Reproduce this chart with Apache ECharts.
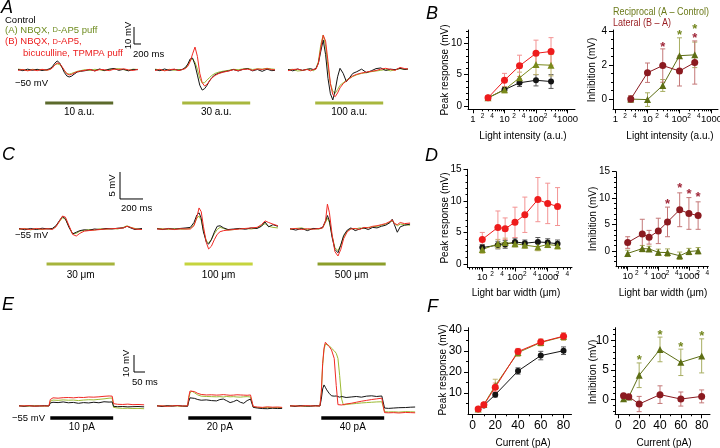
<!DOCTYPE html>
<html><head><meta charset="utf-8">
<script src="https://cdn.jsdelivr.net/npm/echarts@6.0.0/dist/echarts.min.js"></script>
<style>html,body{margin:0;padding:0;background:#fff}#c{width:720px;height:448px}</style>
</head><body><div id="c"></div>
<script>
// ======================= DATA =======================
// Panel A: light-intensity traces (time ms, Vm relative to -50 mV)
const tA1 = [0,60,120,180,240,300,360,400,430,460,490,520,550,580,610,640,670,700,740,780,840,900,960,1020,1080,1140,1200,1260,1320,1380,1440,1500];
const kA1 = [0.3,-0.4,0.5,-0.2,0.4,-0.3,0.2,0.8,2.0,4.0,5.3,4.2,1.5,-1.5,-3.5,-4.1,-3.6,-2.5,-1.2,-0.8,-0.4,0.3,-0.5,0.6,-0.3,0.5,0.9,-0.2,0.4,-0.5,0.3,0.2];
const gA1 = [0.5,0.2,-0.3,0.4,0.1,0.3,-0.2,0.5,1.5,3.0,3.6,3.2,1.5,-0.5,-2.0,-2.4,-2.0,-1.5,-0.8,-0.4,0.2,-0.3,0.4,0.1,-0.4,0.3,0.6,0.8,0.2,-0.2,0.5,0.3];
const rA1 = [-0.2,0.3,-0.5,0.2,-0.4,0.4,-0.1,0.3,1.2,3.0,4.1,3.8,2.0,-0.2,-2.2,-2.9,-2.6,-1.8,-1.0,-0.6,-0.2,0.4,-0.6,0.3,0.2,-0.4,0.5,0.3,0.7,0.1,-0.3,0.4];
const tA2 = [0,60,120,180,240,300,340,380,410,440,470,500,530,560,590,620,650,680,710,750,800,860,920,980,1040,1100,1160,1220,1280,1340,1400,1460,1500];
const kA2 = [0.2,-0.4,0.6,-0.3,0.4,-0.2,0.3,1.5,3.5,6.5,7.0,3.0,-3.0,-9.0,-11.8,-11.0,-9.0,-6.5,-4.5,-2.8,-1.8,-1.0,-0.5,0.3,-0.6,0.4,0.8,-0.5,0.3,-0.8,0.5,-0.4,-0.2];
const gA2 = [0.5,0.1,-0.3,0.4,-0.2,0.3,0.2,1.2,3.0,5.5,6.5,4.5,0.5,-5.0,-7.6,-7.4,-6.0,-4.5,-3.2,-2.0,-1.2,-0.6,-0.2,0.4,0.2,0.6,0.9,0.3,0.7,0.5,1.0,0.6,0.4];
const rA2 = [-0.3,0.4,-0.5,0.2,0.5,-0.4,0.3,0.8,2.2,5.0,9.5,13.5,8.0,-2.0,-7.5,-9.4,-8.5,-6.5,-4.8,-3.2,-2.0,-1.2,-0.6,0.2,-0.4,0.3,0.5,-0.2,0.6,0.3,0.8,0.2,0.1];
const tA3 = [0,60,120,180,240,280,320,350,380,410,440,470,500,530,560,590,620,650,690,730,770,810,860,920,980,1040,1100,1160,1220,1280,1340,1400,1460,1500];
const kA3 = [0.3,-0.5,0.6,-0.2,0.4,0.8,0.2,1.0,4.0,11.0,17.6,9.0,-5.0,-14.0,-17.6,-12.0,-4.0,1.0,-2.0,-6.9,-4.5,-2.0,-1.0,0.5,-1.5,-0.5,0.8,1.2,-0.3,0.5,0.2,1.0,0.3,0.6];
const gA3 = [0.2,0.4,-0.6,-0.3,0.5,0.2,-0.4,0.8,5.0,15.0,20.6,14.0,2.0,-8.0,-12.5,-13.7,-11.5,-9.0,-7.5,-6.0,-4.8,-3.8,-2.8,-2.0,-1.6,-1.0,-0.6,-0.2,0.3,-0.5,0.1,0.8,0.4,0.5];
const rA3 = [-0.4,0.3,0.5,-0.2,0.3,-0.5,0.4,0.5,4.0,13.0,20.5,17.0,5.0,-8.0,-14.5,-15.7,-13.5,-10.5,-8.0,-6.5,-5.0,-3.5,-2.5,-1.8,-1.2,-0.8,-0.3,0.5,1.0,0.4,-0.2,1.5,0.8,0.6];

// Panel C: light-bar-width traces (ms, mV relative to -55 mV)
const tC1 = [0,40,80,120,160,200,230,255,280,300,320,345,370,395,420,450,480,520,560,600,640,680,720,745,770,800,848];
const kC1 = [0.1,-0.15,0.1,-0.1,0.15,0.0,0.1,0.6,1.6,2.3,1.9,0.3,-0.9,-0.6,-0.3,-0.15,-0.25,0.0,-0.1,0.1,0.0,0.15,0.2,0.5,0.2,-0.1,0.1];
const gC1 = [-0.1,0.1,-0.15,0.05,-0.1,0.1,0.0,0.5,1.4,2.1,1.8,0.4,-0.9,-0.8,-0.4,-0.25,-0.1,-0.2,0.05,-0.05,0.1,0.0,0.3,0.6,0.3,0.1,-0.1];
const rC1 = [0.0,0.05,-0.1,0.1,-0.05,0.05,-0.1,0.4,1.5,2.4,2.2,0.6,-1.0,-1.3,-0.8,-0.4,-0.3,-0.2,-0.1,0.0,0.05,0.1,0.2,0.5,0.3,0.0,-0.1];
const tC2 = [0,40,80,120,160,200,230,255,275,290,305,320,340,356,375,395,415,435,460,490,530,570,610,650,690,720,745,770,800,834];
const kC2 = [0.05,-0.1,0.1,-0.05,0.1,0.2,0.3,1.2,2.6,3.0,2.0,-0.5,-2.4,-2.8,-2.0,-0.6,0.5,0.6,0.2,-0.1,0.0,0.1,-0.05,0.2,0.1,0.5,1.3,0.4,0.8,0.5];
const gC2 = [0.1,0.05,-0.1,0.1,-0.05,0.0,0.1,0.8,2.0,2.4,1.6,-0.3,-2.2,-2.6,-1.9,-0.9,-0.1,0.3,0.1,-0.2,-0.1,0.05,0.1,0.0,0.2,0.6,1.0,0.5,0.3,0.2];
const rC2 = [0.0,-0.05,0.05,-0.1,0.05,0.0,0.0,0.6,2.2,3.9,3.2,0.5,-2.5,-3.7,-3.2,-2.0,-1.0,-0.5,-0.3,-0.2,-0.1,0.0,0.1,0.2,0.3,0.8,1.5,1.2,0.9,0.6];
const tC3 = [0,40,80,120,160,200,225,245,258,272,290,310,331,350,370,395,420,450,480,510,540,570,600,630,660,690,705,720,740,760,790,828];
const kC3 = [0.05,-0.2,0.1,-0.3,0.1,0.05,0.3,1.5,2.5,1.5,-1.5,-3.8,-4.4,-3.0,-1.2,-0.2,0.2,-0.3,0.0,0.2,-0.1,0.3,0.2,0.5,0.7,1.2,1.8,0.8,-0.6,0.4,0.7,0.9];
const gC3 = [-0.05,0.1,0.2,-0.1,0.05,0.0,0.2,1.2,2.0,1.2,-1.2,-3.5,-4.0,-3.0,-1.4,-0.4,0.1,0.0,0.2,0.1,0.3,0.4,0.5,0.7,0.9,1.3,1.5,1.1,0.6,0.9,0.8,0.7];
const rC3 = [0.0,0.1,-0.1,0.05,-0.05,0.1,0.2,1.5,4.6,3.0,-1.0,-4.2,-5.0,-3.8,-1.8,-0.5,0.0,0.1,-0.1,0.3,0.2,0.5,0.6,0.8,1.0,1.4,1.7,1.0,0.8,1.2,1.0,1.1];

// Panel E: current-injection traces (ms, mV relative to -55 mV)
const tE1 = [0,15,30,45,60,75,88,92,100,115,130,145,160,175,190,205,220,235,250,265,274,278,290,305,320,335,350,368];
const kE1 = [0.1,-0.2,0.2,-0.1,0.0,0.2,0.0,1.8,2.2,2.0,2.4,1.9,2.1,1.6,2.0,1.8,2.2,1.9,2.5,2.3,2.4,-0.2,-0.4,-0.3,-0.5,-0.4,-0.3,-0.5];
const gE1 = [0.2,0.0,-0.1,0.2,0.1,-0.1,0.1,2.8,3.5,3.3,3.6,3.4,3.5,3.2,3.5,3.7,3.6,3.9,4.2,4.6,4.7,-0.8,-1.2,-1.4,-1.3,-1.5,-1.4,-1.6];
const rE1 = [0.0,0.1,0.2,-0.1,0.1,0.0,0.1,3.8,4.8,4.6,4.9,5.0,4.8,5.1,5.0,5.3,5.2,5.4,5.7,5.9,5.8,1.4,1.0,0.9,1.1,0.8,0.9,0.7];
const tE2 = [0,15,30,45,60,75,90,93,97,102,110,120,130,145,160,175,185,195,205,215,225,235,245,255,265,275,279,283,295,310,325,340,355,368];
const kE2 = [0.1,-0.3,0.2,-0.1,0.3,0.0,-0.2,2.5,4.8,5.5,4.5,3.8,3.4,3.6,3.2,3.0,3.8,4.1,3.1,2.0,2.6,3.5,2.2,1.6,3.2,4.1,3.8,-0.8,-1.2,-1.5,-1.6,-1.3,-1.5,-1.4];
const gE2 = [0.2,0.0,-0.1,0.2,0.0,-0.2,0.1,4.0,7.5,8.8,7.8,6.5,5.8,5.6,5.5,5.4,5.5,5.3,5.6,5.4,5.5,5.3,5.2,5.4,5.5,5.3,5.2,-0.6,-0.9,-1.0,-0.8,-1.1,-0.9,-1.0];
const rE2 = [0.0,0.1,-0.2,0.1,0.2,0.0,0.1,5.0,8.8,9.8,8.5,7.4,6.8,6.5,6.6,6.4,6.5,6.7,6.5,6.3,6.4,6.6,6.5,6.4,6.3,6.5,6.4,-0.3,-0.6,-0.8,-0.5,-0.7,-0.6,-0.8];
const tE3 = [0,15,30,45,60,75,88,92,96,100,104,108,115,122,130,136,141,146,152,157,165,180,195,210,225,240,255,270,274,278,290,305,320,340,355,368];
const kE3 = [0.1,-0.2,0.2,0.0,-0.1,0.2,0.0,4.0,10.0,12.4,11.0,9.5,7.5,6.0,5.8,5.9,4.8,5.2,5.6,5.4,5.0,5.3,5.6,5.2,5.8,6.0,5.6,5.9,5.8,-1.2,-1.4,-1.2,-1.0,-0.9,-0.7,-0.6];
const gE3 = [0.2,-0.1,0.1,-0.2,0.0,0.1,0.0,7.0,24.0,33.0,36.5,36.9,35.5,34.0,32.5,31.0,28.0,18.0,4.0,0.6,0.9,1.2,1.5,1.8,2.0,2.2,2.4,2.5,2.6,-3.3,-3.5,-3.4,-3.6,-3.3,-3.4,-3.5];
const rE3 = [0.0,0.1,-0.1,0.2,0.1,0.0,0.1,8.0,25.0,34.0,37.5,37.8,35.0,33.0,28.0,12.0,0.8,0.3,0.6,0.8,1.2,1.6,2.2,2.8,3.3,3.8,4.2,4.6,4.7,-3.9,-4.0,-3.9,-4.1,-3.8,-3.9,-4.0];

// stimulus timing (ms) and labels
const stimA = [340, 1190];
const stimC = [190, 660];
const stimE = [92, 277];
const stimLabelsA = ['10 a.u.', '30 a.u.', '100 a.u.'];
const stimLabelsC = ['30 \u03bcm', '100 \u03bcm', '500 \u03bcm'];
const stimLabelsE = ['10 pA', '20 pA', '40 pA'];
const scaleA = [10, 200];  // mV, ms
const scaleC = [5, 200];
const scaleE = [10, 50];

// Panel B
const intensity = [3, 10, 30, 100, 300];
const bCtrl = [1.3, 2.6, 3.7, 4.1, 3.9],  bCtrlErr = [0.2, 0.4, 0.6, 0.9, 1.1];
const bA    = [1.3, 2.6, 4.5, 6.6, 6.5],  bAErr    = [0.2, 0.5, 0.9, 1.6, 1.7];
const bB    = [1.3, 4.1, 6.4, 8.4, 8.7],  bBErr    = [0.2, 1.1, 1.7, 2.1, 2.2];
const bRecip = [0.0, -0.03, 0.8, 2.55, 2.6], bRecipErr = [0.2, 0.4, 0.35, 1.05, 0.75];
const bLat   = [0.0, 1.55, 1.97, 1.65, 2.15], bLatErr  = [0.2, 0.57, 0.98, 0.88, 1.27];
const bStarRecip = [[100, 3.96], [300, 4.3]];
const bStarLat = [[30, 3.27], [300, 3.8]];

// Panel D
const barWidth = [10, 30, 50, 100, 200, 500, 1000, 2000];
const dCtrl = [2.6, 3.0, 3.1, 3.5, 3.3, 3.5, 3.4, 3.2], dCtrlErr = [0.5, 0.6, 0.6, 0.6, 0.5, 0.7, 0.6, 0.6];
const dA    = [2.3, 3.2, 3.4, 3.2, 3.0, 2.7, 3.1, 2.9], dAErr    = [0.6, 0.7, 0.7, 0.5, 0.5, 0.6, 0.5, 0.5];
const dB    = [3.9, 5.8, 5.6, 6.6, 7.8, 10.2, 9.6, 9.1], dBErr   = [1.1, 2.6, 1.7, 2.4, 2.8, 3.5, 3.2, 3.0];
const dRecip = [-0.45, 0.45, 0.4, -0.25, -0.3, -0.9, -0.1, 0.05], dRecipErr = [0.6, 0.6, 0.5, 0.6, 0.7, 0.7, 0.6, 0.6];
const dLat   = [1.6, 3.2, 2.6, 3.8, 5.5, 7.8, 7.1, 6.7], dLatErr = [1.1, 2.8, 1.3, 2.4, 2.8, 3.2, 3.0, 2.6];
const dStarLat = [[200, 9.6], [500, 12.6], [1000, 11.4], [2000, 10.9]];

// Panel F
const current = [5, 10, 20, 40, 60, 80];
const fCtrl = [2.4, 4.2, 9.3, 20.5, 27.8, 30.1], fCtrlErr = [0.8, 0.9, 1.1, 1.5, 2.0, 1.8];
const fA    = [2.5, 4.6, 13.6, 29.2, 34.0, 36.8], fAErr   = [0.9, 1.0, 3.0, 1.8, 1.6, 1.8];
const fB    = [2.5, 4.5, 12.8, 29.7, 34.2, 37.0], fBErr   = [0.8, 1.0, 2.0, 1.5, 1.4, 1.5];
const fRecip = [0.1, 0.4, 4.1, 8.5, 6.3, 7.4], fRecipErr = [0.4, 0.3, 2.1, 2.1, 2.25, 2.9];
const fLat   = [0.6, 0.45, -0.8, 0.8, 0.05, 0.5], fLatErr = [0.4, 0.3, 1.3, 1.5, 1.2, 1.1];
const fStarRecip = [[20, 7.3], [40, 11.6], [60, 9.6], [80, 11.4]];

// ======================= BUILD =======================
const FONT = '"Liberation Sans", Arial, Helvetica, sans-serif';
const C = {k:'#141414', g:'#9cba34', r:'#f02a24', olive:'#7a8a1c', red:'#ee1c1c', recip:'#5d6e14', lat:'#8b1a20',
  errK:'#5a5a5a', errA:'#c2b46e', errB:'#f39393', errRecip:'#a8ae62', errLat:'#c47878', starLat:'#a0283a', starRecip:'#73861e'};
const option = {animation:false, backgroundColor:'#ffffff', grid:[], xAxis:[], yAxis:[], series:[], graphic:[]};
const zip = (t, v) => t.map((x, i) => [x, v[i]]);

function addGrid(l, t, w, h) {
  option.grid.push({left:l, top:t, width:w, height:h, containLabel:false, outerBoundsMode:'none', show:false});
  return option.grid.length - 1;
}
function hiddenAxes(g, xr, yr) {
  option.xAxis.push({gridIndex:g, type:'value', min:xr[0], max:xr[1], show:false});
  option.yAxis.push({gridIndex:g, type:'value', min:yr[0], max:yr[1], show:false});
  return [option.xAxis.length - 1, option.yAxis.length - 1];
}
function line(ax, data, color, width, z) {
  option.series.push({type:'line', xAxisIndex:ax[0], yAxisIndex:ax[1], data, symbol:'none', showSymbol:false,
    lineStyle:{color, width}, itemStyle:{color}, clip:false, z:z || 2, silent:true});
}
function txt(x, y, s, o) {
  const el = Object.assign({type:'text', x, y, z:100, silent:true}, o && o.el || {});
  el.style = Object.assign({text:s, fill:'#000', fontSize:10, fontFamily:FONT, align:'left', verticalAlign:'middle'}, o && o.style || {});
  option.graphic.push(el);
}

// ---- trace rows ----
const rows = [
  {starts:[18,155,288], top:20, height:95, width:122, xr:[0,1525], yr:[-26.47,29.41], barY:-19.4, barW:3,
   barColors:['#5c6a2c','#a8b73e','#a8b73e'], stim:stimA, labels:stimLabelsA, labelY:112.5,
   traces:[[tA1,kA1,gA1,rA1],[tA2,kA2,gA2,rA2],[tA3,kA3,gA3,rA3]], scale:scaleA, scaleAt:[1450,15.3]},
  {starts:[19,157,290], top:160, height:115, width:123, xr:[0,848.3], yr:[-8.52,12.78], barY:-6.5, barW:3,
   barColors:['#a6b43c','#c5d43e','#8c9e2a'], stim:stimC, labels:stimLabelsC, labelY:275,
   traces:[[tC1,kC1,gC1,rC1],[tC2,kC2,gC2,rC2],[tC3,kC3,gC3,rC3]], scale:scaleC, scaleAt:[696.6,5.56]},
  {starts:[19,157,290], top:330, height:98, width:125, xr:[0,367.6], yr:[-12.94,44.71], barY:-7.06, barW:3.5,
   barColors:['#000','#000','#000'], stim:stimE, labels:stimLabelsE, labelY:427,
   traces:[[tE1,kE1,gE1,rE1],[tE2,kE2,gE2,rE2],[tE3,kE3,gE3,rE3]], scale:scaleE, scaleAt:[338.2,20]}
];
rows.forEach(row => {
  row.starts.forEach((left, i) => {
    const g = addGrid(left, row.top, row.width, row.height);
    const ax = hiddenAxes(g, row.xr, row.yr);
    const [t, k, gr, r] = row.traces[i];
    line(ax, zip(t, gr), C.g, 1, 2);
    line(ax, zip(t, k), C.k, 1, 3);
    line(ax, zip(t, r), C.r, 1, 4);
    line(ax, [[row.stim[0], row.barY], [row.stim[1], row.barY]], row.barColors[i], row.barW, 2);
    const cx = left + ((row.stim[0] + row.stim[1]) / 2 - row.xr[0]) / (row.xr[1] - row.xr[0]) * row.width;
    txt(cx, row.labelY, row.labels[i], {style:{align:'center'}});
    if (i === 0) {
      const [sx, sy] = row.scaleAt;
      line(ax, [[sx, sy + row.scale[0]], [sx, sy], [sx + row.scale[1], sy]], '#000', 1, 5);
    }
  });
});

// trace annotations
const LEG = 9.5;
txt(5, 20, 'Control', {style:{fontSize:LEG}});
txt(5, 30, '(A) NBQX, {sc|D}-AP5 puff', {style:{fontSize:LEG, fill:'#6f8c20', rich:{sc:{fontSize:7.5, fill:'#6f8c20', fontFamily:FONT}}}});
txt(5, 41.5, '(B) NBQX, {sc|D}-AP5,', {style:{fontSize:LEG, fill:'#ec2020', rich:{sc:{fontSize:7.5, fill:'#ec2020', fontFamily:FONT}}}});
txt(23, 53, 'bicuculline, TPMPA puff', {style:{fontSize:LEG, fill:'#ec2020'}});
txt(128.5, 35.5, '10 mV', {el:{rotation:Math.PI/2}, style:{align:'center', fontSize:LEG}});
txt(133, 54.5, '200 ms', {style:{fontSize:LEG}});
txt(15, 83, '\u221250 mV', {style:{fontSize:LEG}});
txt(112, 185.5, '5 mV', {el:{rotation:Math.PI/2}, style:{align:'center', fontSize:LEG}});
txt(121, 208.5, '200 ms', {style:{fontSize:LEG}});
txt(15, 235, '\u221255 mV', {style:{fontSize:LEG}});
txt(126, 363.5, '10 mV', {el:{rotation:Math.PI/2}, style:{align:'center', fontSize:LEG}});
txt(132, 382, '50 ms', {style:{fontSize:LEG}});
txt(12, 418, '\u221255 mV', {style:{fontSize:LEG}});

// panel letters
[['A',1,8],['B',426,14],['C',2,155],['D',425,156],['E',2,305],['F',427,307]].forEach(([s,x,y]) =>
  txt(x, y, s, {style:{fontSize:18, fontStyle:'italic'}}));

// ---- plot panels ----
function errRender(params, api) {
  const x = api.value(0), lo = api.value(1), hi = api.value(2);
  const a = api.coord([x, lo]), b = api.coord([x, hi]);
  const w = 2.5, st = {stroke: api.visual('color'), lineWidth: 1, fill: null};
  return {type:'group', children:[
    {type:'line', shape:{x1:a[0], y1:a[1], x2:b[0], y2:b[1]}, style:st},
    {type:'line', shape:{x1:a[0]-w, y1:a[1], x2:a[0]+w, y2:a[1]}, style:st},
    {type:'line', shape:{x1:b[0]-w, y1:b[1], x2:b[0]+w, y2:b[1]}, style:st}]};
}
function starRender(params, api) {
  const p = api.coord([api.value(0), api.value(1)]);
  return {type:'text', x:p[0], y:p[1] + 4, style:{text:'*', fill:api.visual('color'), fontSize:13, fontWeight:'bold',
    fontFamily:FONT, align:'center', verticalAlign:'middle'}};
}
const fmtNum = v => String(Math.round(v));
const fmtLead = v => String(Math.round(v)).charAt(0);
function plotPanel(c) {
  const fs = c.fontSize || 9.5;
  const g = addGrid(c.left, c.top, c.width, c.height);
  const base = () => ({gridIndex:g, type:c.xType, min:c.xMin, max:c.xMax, logBase:10, splitLine:{show:false},
    minorTick:{show:false}, minorSplitLine:{show:false}, silent:true, position:'bottom'});
  const xi = option.xAxis.length;
  option.xAxis.push(Object.assign(base(), {
    axisLine:{show:true, onZero:false, lineStyle:{color:'#000', width:1}},
    axisTick:{show:true, length:4, customValues:c.xMajor, lineStyle:{color:'#000', width:1}},
    axisLabel:{show:true, customValues:c.xMajor, formatter:fmtNum, fontSize:fs, fontFamily:FONT, color:'#000', margin:5}}));
  option.xAxis.push(Object.assign(base(), {
    axisLine:{show:false, onZero:false},
    axisTick:{show:true, length:2, customValues:c.xMinor, lineStyle:{color:'#000', width:1}},
    axisLabel:{show:!!c.xSmall, customValues:c.xSmall || [0], formatter:fmtLead, fontSize:6.5, fontFamily:FONT, color:'#000', margin:3}}));
  const ybase = () => ({gridIndex:g, type:'value', min:c.yMin, max:c.yMax, splitLine:{show:false},
    minorTick:{show:false}, silent:true, position:'left'});
  const yi = option.yAxis.length;
  option.yAxis.push(Object.assign(ybase(), {
    axisLine:{show:true, onZero:false, lineStyle:{color:'#000', width:1}},
    axisTick:{show:true, length:4, customValues:c.yMajor, lineStyle:{color:'#000', width:1}},
    axisLabel:{show:true, customValues:c.yMajor, formatter:fmtNum, fontSize:c.fontSize || 10, fontFamily:FONT, color:'#000', margin:6}}));
  option.yAxis.push(Object.assign(ybase(), {
    axisLine:{show:false, onZero:false},
    axisTick:{show:true, length:2, customValues:c.yMinor, lineStyle:{color:'#000', width:1}},
    axisLabel:{show:false}}));
  txt(c.yName[1], c.yName[2], c.yName[0], {el:{rotation:Math.PI/2}, style:{align:'center'}});
  txt(c.xName[1], c.xName[2], c.xName[0], {style:{align:'center'}});
  return [xi, yi];
}
function plotSeries(ax, xs, ys, errs, color, errColor, symbol, size) {
  option.series.push({type:'custom', xAxisIndex:ax[0], yAxisIndex:ax[1], renderItem:errRender,
    data: xs.map((x, i) => [x, ys[i] - errs[i], ys[i] + errs[i]]), encode:{x:0, y:[1, 2]},
    itemStyle:{color:errColor}, z:3, silent:true, clip:false});
  option.series.push({type:'line', xAxisIndex:ax[0], yAxisIndex:ax[1], data:zip(xs, ys), symbol, symbolSize:size,
    showSymbol:true, lineStyle:{color, width:1}, itemStyle:{color, borderWidth:0}, z:4, silent:true, clip:false});
}
function stars(ax, pts, color) {
  option.series.push({type:'custom', xAxisIndex:ax[0], yAxisIndex:ax[1], renderItem:starRender, data:pts,
    encode:{x:0, y:1}, itemStyle:{color}, z:6, silent:true, clip:false});
}
const logMinor = [2,3,4,5,6,7,8,9,20,30,40,50,60,70,80,90,200,300,400,500,600,700,800,900,2000,3000,4000,5000];
const intY = (a, b, skip) => { const r = []; for (let v = a; v <= b; v++) if (!skip.includes(v)) r.push(v); return r; };

// B left
let ax = plotPanel({left:468, top:30, width:107, height:79.3, xType:'log', xMin:0.694, xMax:1730, yMin:-0.53, yMax:12.12,
  xMajor:[1,10,100,1000], xMinor:logMinor, xSmall:[2,4,20,40,200,400], yMajor:[0,5,10], yMinor:intY(1,12,[5,10]),
  yName:['Peak response (mV)', 445, 70], xName:['Light intensity (a.u.)', 523, 136]});
plotSeries(ax, intensity, bCtrl, bCtrlErr, C.k, C.errK, 'circle', 6);
plotSeries(ax, intensity, bA, bAErr, C.olive, C.errA, 'triangle', 7);
plotSeries(ax, intensity, bB, bBErr, C.red, C.errB, 'circle', 7);
// B right
ax = plotPanel({left:613, top:30, width:105, height:79.3, xType:'log', xMin:0.835, xMax:1600, yMin:-0.6, yMax:4.06,
  xMajor:[1,10,100,1000], xMinor:logMinor, xSmall:[2,4,20,40,200,400], yMajor:[0,2,4], yMinor:[0.5,1,1.5,2.5,3,3.5],
  yName:['Inhibition (mV)', 592, 70], xName:['Light intensity (a.u.)', 670, 136]});
plotSeries(ax, intensity, bRecip, bRecipErr, C.recip, C.errRecip, 'triangle', 7);
plotSeries(ax, intensity, bLat, bLatErr, C.lat, C.errLat, 'circle', 7);
stars(ax, bStarRecip, C.starRecip);
stars(ax, bStarLat, C.starLat);
txt(613, 12.7, 'Reciprocal (A \u2013 Control)', {el:{scaleX:0.9}, style:{fill:'#6b7a1a', fontSize:10}});
txt(613, 23.7, 'Lateral (B \u2013 A)', {el:{scaleX:0.9}, style:{fill:'#9b2226', fontSize:10}});
// D left
ax = plotPanel({left:467.5, top:169.3, width:104.5, height:98.2, xType:'log', xMin:3.53, xMax:5530, yMin:-0.55, yMax:15,
  xMajor:[10,100,1000], xMinor:logMinor, xSmall:[20,40,200,400,2000,4000], yMajor:[0,5,10,15], yMinor:intY(1,14,[5,10]),
  yName:['Peak response (mV)', 445, 218], xName:['Light bar width (\u03bcm)', 516, 293.5]});
plotSeries(ax, barWidth, dCtrl, dCtrlErr, C.k, C.errK, 'circle', 6);
plotSeries(ax, barWidth, dA, dAErr, C.olive, C.errA, 'triangle', 7);
plotSeries(ax, barWidth, dB, dBErr, C.red, C.errB, 'circle', 7);
// D right
ax = plotPanel({left:616, top:171.7, width:92.3, height:95, xType:'log', xMin:4.15, xMax:4300, yMin:-2.97, yMax:15,
  xMajor:[10,100,1000], xMinor:logMinor, xSmall:[20,40,200,400,2000,4000], yMajor:[0,5,10,15], yMinor:intY(-2,14,[0,5,10]),
  yName:['Inhibition (mV)', 593, 219], xName:['Light bar width (\u03bcm)', 663, 293.5]});
plotSeries(ax, barWidth, dRecip, dRecipErr, C.recip, C.errRecip, 'triangle', 7);
plotSeries(ax, barWidth, dLat, dLatErr, C.lat, C.errLat, 'circle', 7);
stars(ax, dStarLat, C.starLat);
// F left
ax = plotPanel({left:468, top:327.7, width:103.5, height:86.6, xType:'value', xMin:-3.95, xMax:87, yMin:0, yMax:41,
  xMajor:[0,20,40,60,80], xMinor:[10,30,50,70], yMajor:[10,20,30,40], yMinor:[5,15,25,35], fontSize:12,
  yName:['Peak response (mV)', 443, 370], xName:['Current (pA)', 523, 443.5]});
plotSeries(ax, current, fCtrl, fCtrlErr, C.k, C.errK, 'circle', 6);
plotSeries(ax, current, fA, fAErr, C.olive, C.errA, 'triangle', 7);
plotSeries(ax, current, fB, fBErr, C.red, C.errB, 'circle', 7);
// F right
ax = plotPanel({left:615, top:327.7, width:95, height:86.6, xType:'value', xMin:-3.2, xMax:88, yMin:-2.55, yMax:12.2,
  xMajor:[0,20,40,60,80], xMinor:[10,30,50,70], yMajor:[0,5,10], yMinor:intY(-2,12,[0,5,10]), fontSize:12,
  yName:['Inhibition (mV)', 593, 372], xName:['Current (pA)', 664, 443.5]});
plotSeries(ax, current, fRecip, fRecipErr, C.recip, C.errRecip, 'triangle', 7);
plotSeries(ax, current, fLat, fLatErr, C.lat, C.errLat, 'circle', 7);
stars(ax, fStarRecip, C.starRecip);

const chart = echarts.init(document.getElementById('c'), null, {renderer:'canvas', width:720, height:448});
chart.setOption(option);
</script></body></html>
